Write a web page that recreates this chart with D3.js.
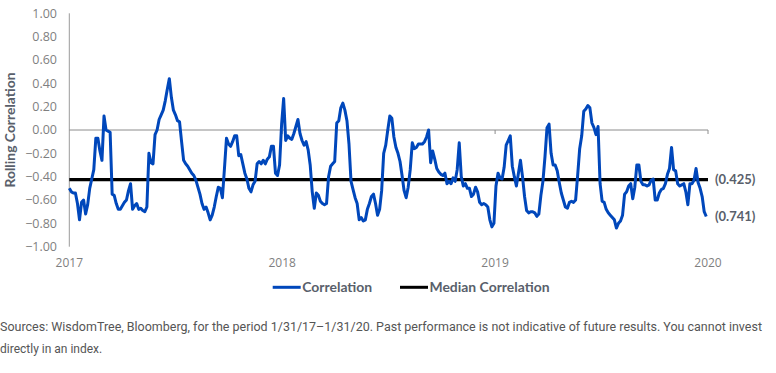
<!DOCTYPE html>
<html lang="en">
<head>
<meta charset="UTF-8">
<title>Rolling Correlation</title>
<script src="https://d3js.org/d3.v7.min.js"></script>
<style>
  body { margin: 0; background: #fff; }
  svg { display: block; }
  .tick-label { fill: #7f7f7f; font-family: "Open Sans", sans-serif; font-size: 12.5px; }
  .bold-label { fill: #595f6b; font-family: Lato, sans-serif; font-weight: bold; font-size: 13px; }
  .note { fill: #555; font-family: Roboto, sans-serif; font-size: 12px; }
</style>
</head>
<body>
<div id="chart"></div>
<script>
// rolling correlation, sampled every 3.5 days starting 1/1/2017
var corrValues = [
  -0.50,-0.53,-0.54,-0.54,-0.63,-0.77,-0.62,-0.60,-0.72,-0.64,
  -0.50,-0.42,-0.34,-0.07,-0.07,-0.18,-0.26,0.12,0.00,-0.01,
  -0.02,-0.55,-0.56,-0.63,-0.68,-0.68,-0.65,-0.62,-0.60,-0.52,
  -0.46,-0.68,-0.65,-0.63,-0.68,-0.67,-0.69,-0.70,-0.66,-0.20,
  -0.28,-0.29,-0.04,0.00,0.09,0.13,0.17,0.25,0.35,0.44,
  0.28,0.17,0.13,0.08,0.07,-0.10,-0.26,-0.29,-0.31,-0.34,
  -0.37,-0.39,-0.43,-0.49,-0.55,-0.63,-0.68,-0.66,-0.71,-0.77,
  -0.73,-0.66,-0.57,-0.49,-0.50,-0.58,-0.33,-0.07,-0.12,-0.14,
  -0.10,-0.05,-0.05,-0.22,-0.21,-0.29,-0.37,-0.42,-0.50,-0.53,
  -0.47,-0.44,-0.29,-0.27,-0.29,-0.26,-0.29,-0.25,-0.23,-0.14,
  -0.14,-0.37,-0.39,-0.30,0.05,0.27,-0.09,-0.05,-0.07,-0.08,
  -0.03,0.03,0.09,-0.03,-0.09,-0.13,-0.10,-0.17,-0.30,-0.53,
  -0.67,-0.54,-0.56,-0.61,-0.63,-0.64,-0.63,-0.40,-0.31,-0.29,
  -0.27,0.06,0.08,0.19,0.23,0.17,0.08,-0.12,-0.44,-0.51,
  -0.58,-0.63,-0.77,-0.75,-0.78,-0.77,-0.68,-0.63,-0.57,-0.55,
  -0.63,-0.73,-0.68,-0.52,-0.20,-0.13,0.00,0.12,0.10,-0.06,
  -0.15,-0.20,-0.27,-0.39,-0.52,-0.58,-0.49,-0.34,-0.11,-0.16,
  -0.15,-0.12,-0.12,-0.12,-0.10,-0.06,0.00,-0.28,-0.18,-0.25,
  -0.33,-0.36,-0.38,-0.39,-0.37,-0.46,-0.44,-0.46,-0.41,-0.44,
  -0.34,-0.11,-0.40,-0.48,-0.46,-0.50,-0.50,-0.57,-0.55,-0.49,
  -0.53,-0.62,-0.64,-0.63,-0.64,-0.66,-0.77,-0.83,-0.80,-0.48,
  -0.37,-0.41,-0.42,-0.32,-0.13,-0.09,-0.05,-0.31,-0.40,-0.48,
  -0.37,-0.26,-0.40,-0.57,-0.69,-0.71,-0.70,-0.70,-0.71,-0.74,
  -0.72,-0.56,-0.44,-0.23,0.02,0.05,-0.20,-0.30,-0.30,-0.35,
  -0.45,-0.54,-0.60,-0.66,-0.67,-0.62,-0.61,-0.62,-0.60,-0.39,
  -0.16,-0.05,0.16,0.18,0.21,0.19,0.06,0.02,-0.04,0.03,
  -0.46,-0.61,-0.62,-0.68,-0.71,-0.73,-0.75,-0.77,-0.84,-0.80,
  -0.78,-0.73,-0.55,-0.53,-0.48,-0.46,-0.59,-0.49,-0.30,-0.30,
  -0.44,-0.47,-0.47,-0.48,-0.47,-0.43,-0.42,-0.60,-0.60,-0.54,
  -0.51,-0.50,-0.46,-0.38,-0.33,-0.15,-0.34,-0.35,-0.46,-0.48,
  -0.47,-0.46,-0.53,-0.64,-0.46,-0.46,-0.43,-0.33,-0.45,-0.50,
  -0.57,-0.70,-0.741
];
var medianValue = -0.425;
var lastValue = -0.741;
var yTicks = [1, 0.8, 0.6, 0.4, 0.2, 0, -0.2, -0.4, -0.6, -0.8, -1];
var yearTicks = ["2017", "2018", "2019", "2020"];
var seriesNames = ["Correlation", "Median Correlation"];
var seriesColors = ["#0047bb", "#000000"];
var footnote = [
  "Sources: WisdomTree, Bloomberg, for the period 1/31/17\u20131/31/20. Past performance is not indicative of future results. You cannot invest",
  "directly in an index."
];

var width = 776, height = 373;
var startDate = new Date(2017, 0, 1);
var series = corrValues.map(function(v, i) {
  return { date: d3.timeHour.offset(startDate, 84 * i), value: v };
});

var svg = d3.select("#chart").append("svg")
  .attr("width", width).attr("height", height);

var x = d3.scaleTime()
  .domain([new Date(2017, 0, 1), new Date(2020, 0, 1)])
  .range([69.3, 708]);
var y = d3.scaleLinear().domain([-1, 1]).range([246.7, 13.3]);

// y axis line + labels
svg.append("line")
  .attr("x1", x.range()[0]).attr("x2", x.range()[0])
  .attr("y1", y(1)).attr("y2", y(-1))
  .attr("stroke", "#9a9a9a").attr("stroke-width", 1);

svg.append("g").selectAll("text")
  .data(yTicks).enter().append("text")
  .attr("class", "tick-label")
  .attr("x", 57).attr("y", function(d) { return y(d); })
  .attr("dy", "0.35em")
  .attr("text-anchor", "end")
  .text(function(d) { return d3.format(".2f")(d); });

svg.append("text")
  .attr("class", "bold-label")
  .attr("transform", "translate(15," + y(0) + ") rotate(-90)")
  .attr("text-anchor", "middle")
  .attr("textLength", 115)
  .attr("lengthAdjust", "spacingAndGlyphs")
  .style("font-size", "12.5px")
  .text("Rolling  Correlation");

// zero line with year ticks
var yearDates = yearTicks.map(function(t) { return new Date(+t, 0, 1); });
svg.append("line")
  .attr("x1", x.range()[0]).attr("x2", x.range()[1])
  .attr("y1", y(0)).attr("y2", y(0))
  .attr("stroke", "#8c8c8c").attr("stroke-width", 1);
svg.append("g").selectAll("line")
  .data(yearDates.slice(1)).enter().append("line")
  .attr("x1", function(d) { return x(d); }).attr("x2", function(d) { return x(d); })
  .attr("y1", y(0)).attr("y2", y(0) + 4)
  .attr("stroke", "#8c8c8c").attr("stroke-width", 1);

svg.append("g").selectAll("text")
  .data(yearDates).enter().append("text")
  .attr("class", "tick-label")
  .attr("x", function(d) { return x(d); })
  .attr("y", 267)
  .attr("text-anchor", "middle")
  .style("font-size", "12px")
  .text(function(d, i) { return yearTicks[i]; });

// median line
svg.append("line")
  .attr("x1", x.range()[0]).attr("x2", x.range()[1])
  .attr("y1", y(medianValue)).attr("y2", y(medianValue))
  .attr("stroke", seriesColors[1]).attr("stroke-width", 3.2);

// correlation line
var line = d3.line()
  .x(function(d) { return x(d.date); })
  .y(function(d) { return y(d.value); });
svg.append("path")
  .datum(series)
  .attr("d", line)
  .attr("fill", "none")
  .attr("stroke", seriesColors[0])
  .attr("stroke-width", 3)
  .attr("stroke-linejoin", "round");

// end labels
svg.append("text").attr("class", "bold-label")
  .attr("x", 715).attr("y", y(medianValue)).attr("dy", "0.35em")
  .text("(" + d3.format(".3f")(Math.abs(medianValue)) + ")");
svg.append("text").attr("class", "bold-label")
  .attr("x", 715).attr("y", y(lastValue)).attr("dy", "0.35em")
  .text("(" + d3.format(".3f")(Math.abs(lastValue)) + ")");

// legend
var legendX = [272.7, 400];
var legendW = [70, 120];
var legend = svg.append("g").selectAll("g")
  .data(seriesNames).enter().append("g")
  .attr("transform", function(d, i) { return "translate(" + legendX[i] + ",287.3)"; });
legend.append("line")
  .attr("x1", 0).attr("x2", 28).attr("y1", 0).attr("y2", 0)
  .attr("stroke", function(d, i) { return seriesColors[i]; })
  .attr("stroke-width", 3);
legend.append("text")
  .attr("class", "bold-label")
  .attr("x", 29.5).attr("y", 0).attr("dy", "0.35em")
  .attr("textLength", function(d, i) { return legendW[i]; })
  .attr("lengthAdjust", "spacingAndGlyphs")
  .text(function(d) { return d; });

// footnote
svg.append("text").attr("class", "note")
  .attr("x", 0).attr("y", 331)
  .attr("textLength", 762).attr("lengthAdjust", "spacingAndGlyphs")
  .text(footnote[0]);
svg.append("text").attr("class", "note")
  .attr("x", 0).attr("y", 353)
  .text(footnote[1]);
</script>
</body>
</html>
